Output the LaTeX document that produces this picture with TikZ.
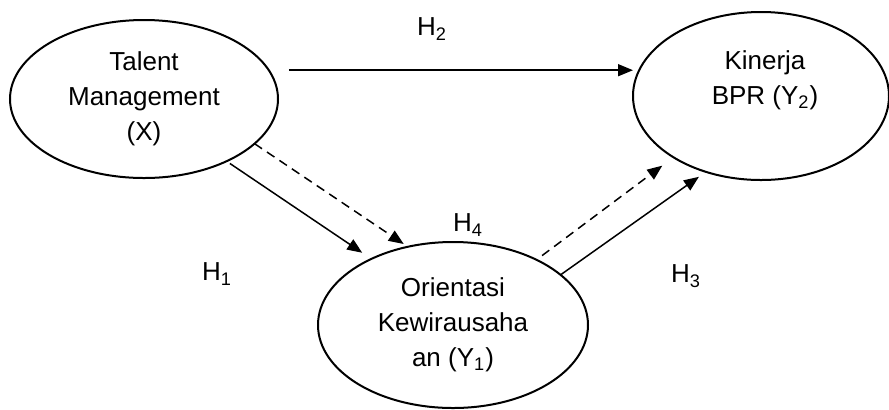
\documentclass[tikz,border=0pt]{standalone}
\usepackage{fontspec}
\setmainfont{Liberation Sans}
\usetikzlibrary{arrows.meta,shapes.geometric}

\begin{document}
\begin{tikzpicture}[x=.5pt,y=-.5pt,
        var/.style={draw,ellipse,line width=1pt,inner sep=0pt,outer sep=0pt,align=center,
            font=\fontsize{13}{17.5}\selectfont},
        lnk/.style={line width=.75pt,-{Triangle[length=7.5pt,width=6pt]}},
        hyp/.style={font=\fontsize{13}{15}\selectfont}]
        \useasboundingbox (0,0) rectangle (889,409);
        % variables
        \node[var,minimum width=134pt,minimum height=79pt] (tm) at (144,99) {Talent\\Management\\(X)};
        \node[var,minimum width=128pt,minimum height=84pt] (kb) at (761,96) {};
        \node[align=center,inner sep=0pt,font=\fontsize{13}{17.5}\selectfont] (kbt) at (765,80) {Kinerja\\BPR (Y\textsubscript{2})};
        \node[var,minimum width=135pt,minimum height=83pt] (ok) at (453,325) {Orientasi\\Kewirausaha\\an (Y\textsubscript{1})};
        % hypotheses
        \draw[lnk] ([xshift=10pt]tm.13) -- (tm.13 -| kb.west);
        \draw[lnk,shorten <=2pt,shorten >=5.5pt] (tm.-37) -- (ok.141);
        \draw[lnk,dash pattern=on 4.5pt off 3pt,shorten >=2.5pt] (tm.-22) -- (ok.120);
        \draw[lnk,dash pattern=on 4.5pt off 3pt,shorten <=3.5pt,shorten >=7pt] (ok.38) -- (kb.215);
        \draw[lnk,shorten >=4.3pt] (ok.25) -- (kb.234);
        \node[hyp] (h2) at (432,29) {H\textsubscript{2}};
        \node[hyp] (h4) at (468,225) {H\textsubscript{4}};
        \node[hyp] (h1) at (217,274) {H\textsubscript{1}};
        \node[hyp] (h3) at (686,276) {H\textsubscript{3}};
\end{tikzpicture}
\end{document}
